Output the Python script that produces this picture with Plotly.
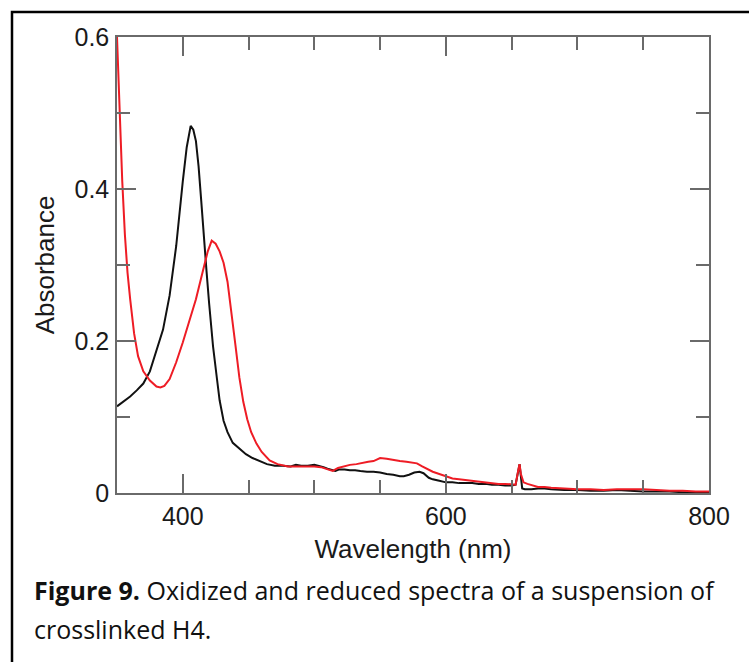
import plotly.graph_objects as go

# Oxidized spectrum (black)
wl_ox = [350, 355, 360, 365, 370, 375, 380, 385, 390, 395, 400, 403, 406, 408, 410, 412, 414, 416, 418, 420,
         423, 426, 428, 431, 434, 438, 443, 448, 453, 458, 464, 470, 476, 482, 486, 490, 495, 500, 503, 507,
         510, 513, 516, 519, 523, 527, 531, 535, 540, 545, 550, 555, 560, 565, 568, 572, 576, 580, 583, 587,
         590, 595, 600, 605, 610, 615, 620, 625, 630, 635, 640, 645, 650, 653, 655, 656, 657, 658, 660, 665,
         670, 675, 680, 690, 700, 710, 720, 730, 740, 750, 760, 770, 780, 790, 800]
abs_ox = [0.114, 0.120, 0.127, 0.135, 0.144, 0.160, 0.188, 0.215, 0.260, 0.325, 0.410, 0.455, 0.483, 0.478, 0.463, 0.430, 0.385, 0.335, 0.293, 0.250,
          0.193, 0.150, 0.122, 0.095, 0.080, 0.066, 0.058, 0.051, 0.046, 0.042, 0.038, 0.036, 0.036, 0.035, 0.037, 0.036, 0.036, 0.037, 0.036, 0.034,
          0.032, 0.030, 0.029, 0.031, 0.031, 0.030, 0.030, 0.029, 0.028, 0.028, 0.027, 0.025, 0.024, 0.022, 0.022, 0.024, 0.027, 0.028, 0.026, 0.020,
          0.018, 0.016, 0.014, 0.014, 0.013, 0.013, 0.013, 0.012, 0.012, 0.011, 0.011, 0.010, 0.010, 0.011, 0.030, 0.038, 0.022, 0.006, 0.005, 0.005,
          0.006, 0.006, 0.005, 0.004, 0.004, 0.003, 0.003, 0.004, 0.003, 0.002, 0.002, 0.002, 0.001, 0.001, 0.001]

# Reduced spectrum (red)
wl_red = [350, 352, 354, 356, 358, 360, 363, 366, 370, 375, 380, 383, 386, 390, 395, 400, 405, 410, 415, 419,
          422, 425, 428, 431, 434, 437, 440, 443, 446, 449, 452, 456, 460, 466, 472, 480, 490, 500, 505, 510,
          514, 518, 522, 527, 532, 537, 541, 545, 550, 555, 560, 565, 570, 575, 578, 582, 586, 590, 595, 600,
          605, 610, 615, 620, 625, 630, 635, 640, 645, 650, 653, 655, 656, 657, 659, 662, 666, 670, 675, 680,
          690, 700, 710, 720, 730, 740, 750, 760, 770, 780, 790, 800]
abs_red = [0.600, 0.500, 0.410, 0.340, 0.290, 0.255, 0.210, 0.180, 0.160, 0.148, 0.140, 0.139, 0.141, 0.150, 0.172, 0.198, 0.225, 0.255, 0.290, 0.318,
           0.332, 0.328, 0.318, 0.303, 0.278, 0.240, 0.195, 0.152, 0.120, 0.097, 0.080, 0.065, 0.054, 0.043, 0.038, 0.035, 0.035, 0.035, 0.034, 0.031,
           0.029, 0.033, 0.035, 0.037, 0.038, 0.040, 0.041, 0.042, 0.046, 0.045, 0.043, 0.042, 0.041, 0.040, 0.039, 0.035, 0.031, 0.028, 0.025, 0.022,
           0.019, 0.018, 0.017, 0.016, 0.015, 0.014, 0.013, 0.012, 0.012, 0.011, 0.011, 0.030, 0.038, 0.025, 0.014, 0.012, 0.010, 0.008, 0.008, 0.007,
           0.006, 0.005, 0.005, 0.004, 0.005, 0.005, 0.005, 0.004, 0.003, 0.003, 0.002, 0.002]

x_ticks = [400, 600, 800]
y_ticks = [0, 0.2, 0.4, 0.6]
y_ticktext = ["0", "0.2", "0.4", "0.6"]
x_title = "Wavelength (nm)"
y_title = "Absorbance"
caption_1 = "<b>Figure 9.</b> Oxidized and reduced spectra of a suspension of"
caption_2 = "crosslinked H4."

W, H = 749, 662
L, R, T, B = 117, 40, 37, 169
pw, ph = W - L - R, H - T - B

def px_x(p):
    return (p - L) / pw

def px_y(p):
    return (H - B - p) / ph

fig = go.Figure()
fig.add_trace(go.Scatter(x=wl_ox, y=abs_ox, mode="lines", name="Oxidized",
                         line=dict(color="#111111", width=2)))
fig.add_trace(go.Scatter(x=wl_red, y=abs_red, mode="lines", name="Reduced",
                         line=dict(color="#ee1c25", width=2)))

FAM = "Liberation Sans, Arial, sans-serif"
axis_font = dict(family=FAM, size=25, color="#1a1a1a")
title_font = dict(family=FAM, size=26, color="#1a1a1a")
common = dict(showline=True, linecolor="#6a6a6a", linewidth=1.5, mirror="allticks",
              ticks="inside", ticklen=19, tickwidth=1.5, tickcolor="#6a6a6a",
              showgrid=False, zeroline=False, tickfont=axis_font, automargin=False)

fig.update_xaxes(range=[350, 800], tickvals=x_ticks, ticktext=[str(v) for v in x_ticks],
                 minor=dict(dtick=50, tick0=350, ticks="inside", ticklen=13, tickwidth=1.5, tickcolor="#6a6a6a"),
                 title=dict(text=x_title, font=title_font, standoff=11),
                 ticklabelstandoff=0,
                 **common)
fig.update_yaxes(range=[0, 0.6], tickvals=y_ticks, ticktext=y_ticktext,
                 minor=dict(dtick=0.1, tick0=0, ticks="inside", ticklen=13, tickwidth=1.5, tickcolor="#6a6a6a"),
                 title=dict(text=y_title, font=title_font, standoff=12),
                 ticklabelstandoff=1,
                 **common)

cap_font = dict(family="Open Sans, sans-serif", size=25, color="#111111")
fig.add_annotation(x=px_x(32), y=px_y(590), xref="paper", yref="paper", text=caption_1,
                   showarrow=False, xanchor="left", yanchor="middle", font=cap_font)
fig.add_annotation(x=px_x(32), y=px_y(629), xref="paper", yref="paper", text=caption_2,
                   showarrow=False, xanchor="left", yanchor="middle", font=cap_font)

fig.add_shape(type="rect", xref="paper", yref="paper",
              x0=px_x(12), x1=px_x(W + 20), y0=px_y(12), y1=px_y(H + 20),
              line=dict(color="black", width=2.5), fillcolor="rgba(0,0,0,0)", layer="above")

fig.update_layout(width=W, height=H, margin=dict(l=L, r=R, t=T, b=B, autoexpand=False),
                  paper_bgcolor="white", plot_bgcolor="white", showlegend=False)

fig.write_html("out.html", config={"displayModeBar": False},
               post_script="document.body.style.margin='0';")
